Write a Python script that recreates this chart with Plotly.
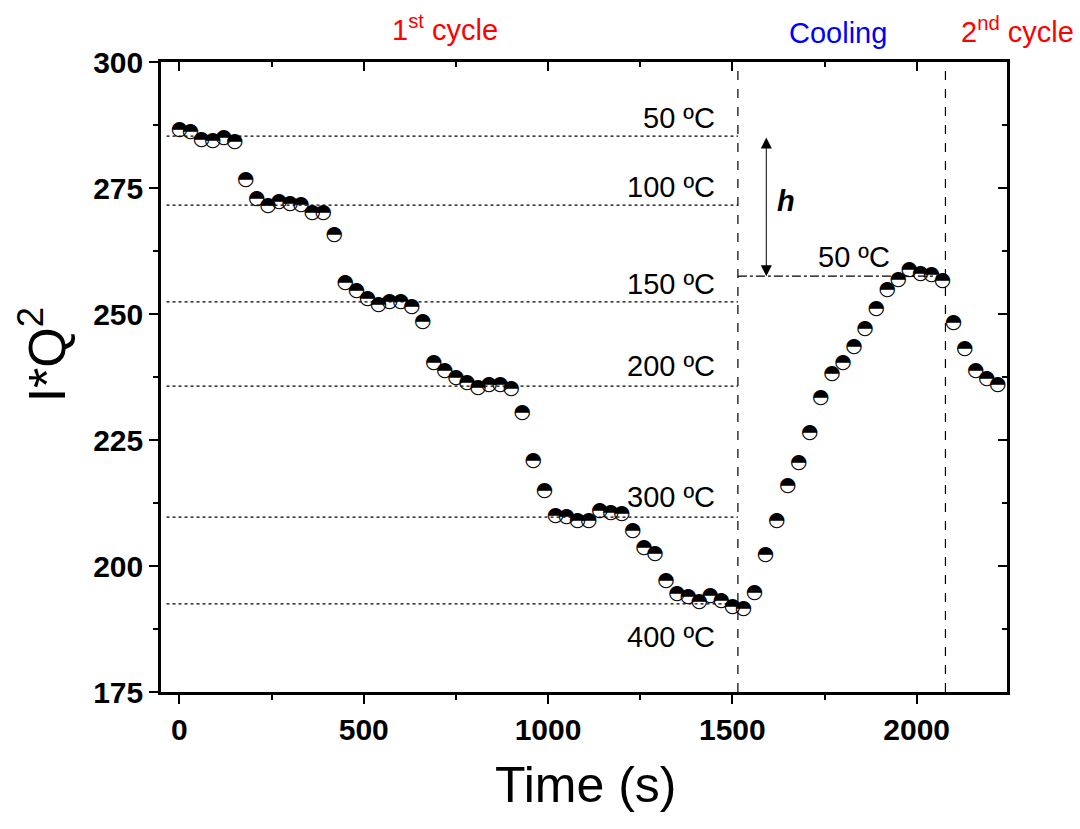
import plotly.graph_objects as go

# ---- data ----
time_s = [i * 30 for i in range(75)]
iq2 = [
    286.5, 286.2, 284.5, 284.3, 285.0, 284.1,
    276.6,
    272.8, 271.4, 272.2, 271.8, 271.6, 270.0, 270.0,
    265.7,
    256.2, 254.6, 253.0, 251.8, 252.4, 252.4, 251.4,
    248.4,
    240.3, 238.7, 237.3, 236.3, 235.3, 235.9, 235.9, 235.1,
    230.4, 220.8, 214.9,
    209.9, 209.7, 208.9, 208.9, 210.9, 210.5, 210.3,
    206.9, 203.6, 202.4, 197.0,
    194.4, 193.8, 192.8, 194.0, 193.0, 191.9, 191.5,
    194.6,
    202.2, 208.9, 215.9, 220.4, 226.4, 233.3, 238.1, 240.3, 243.5, 247.0, 251.0, 254.8,
    256.7, 258.7, 257.9, 257.7, 256.5,
    248.2, 243.0, 238.7, 237.1, 235.9,
]

level_temps = ["50 ºC", "100 ºC", "150 ºC", "200 ºC", "300 ºC", "400 ºC"]
level_values = [285.3, 271.6, 252.4, 235.7, 209.7, 192.5]
level_label_y = [288.9, 275.2, 256.0, 239.7, 213.7, 185.9]
level_label_x = 1458
level_x_start = -35
phase_bounds = [1515, 2078]
cooling_level = 257.5
arrow_x = 1592
h_pos = (1645, 272.4)
cool_label = ("50 ºC", 1831, 261.3)

x_range = [-50, 2245]
y_range = [175, 300]
x_ticks = [0, 500, 1000, 1500, 2000]
x_minor = [250, 750, 1250, 1750, 2250]
y_ticks = [175, 200, 225, 250, 275, 300]
y_minor = [187.5, 212.5, 237.5, 262.5, 287.5]

FONT = "Liberation Sans, Arial"

fig = go.Figure()

# Level lines (dotted)
for v in level_values:
    fig.add_shape(type="line", xref="x", yref="y", x0=level_x_start, x1=phase_bounds[0],
                  y0=v, y1=v, line=dict(color="black", width=1.2, dash="dot"))

# Phase boundaries (dashed)
for b in phase_bounds:
    fig.add_shape(type="line", xref="x", yref="paper", x0=b, x1=b, y0=0, y1=1,
                  line=dict(color="black", width=1.2, dash="dash"))

# Cooling 50 C level (dash-dot)
fig.add_shape(type="line", xref="x", yref="y", x0=phase_bounds[0], x1=phase_bounds[1],
              y0=cooling_level, y1=cooling_level,
              line=dict(color="black", width=1.2, dash="dashdot"))

# data markers: half-filled circles (glyph)
fig.add_trace(go.Scatter(
    x=time_s, y=iq2, mode="text", text=["◓"] * len(time_s),
    textposition="middle center",
    textfont=dict(family="DejaVu Sans", size=20, color="black"),
    hoverinfo="skip", showlegend=False))

# invisible trace for mirrored axes
fig.add_trace(go.Scatter(x=x_range, y=y_range, xaxis="x2", yaxis="y2", mode="markers",
                         marker=dict(opacity=0), hoverinfo="skip", showlegend=False))

# level labels
for t, ly in zip(level_temps, level_label_y):
    fig.add_annotation(x=level_label_x, y=ly, xref="x", yref="y", text=t, showarrow=False,
                       xanchor="right", yanchor="middle",
                       font=dict(family=FONT, size=29, color="black"))

fig.add_annotation(x=cool_label[1], y=cool_label[2], xref="x", yref="y", text=cool_label[0],
                   showarrow=False, xanchor="center", yanchor="middle",
                   font=dict(family=FONT, size=29, color="black"))

# double-headed arrow h
fig.add_annotation(x=arrow_x, y=cooling_level, ax=arrow_x, ay=level_values[0],
                   xref="x", yref="y", axref="x", ayref="y", text="", showarrow=True,
                   arrowhead=2, arrowsize=2.2, arrowwidth=1, arrowside="end+start",
                   arrowcolor="black", standoff=0, startstandoff=0)
fig.add_annotation(x=h_pos[0], y=h_pos[1], xref="x", yref="y", text="<b><i>h</i></b>",
                   showarrow=False, font=dict(family=FONT, size=29, color="black"))

# top labels
fig.add_annotation(x=0.336, y=1.054, xref="paper", yref="paper", text="1<sup>st</sup> cycle",
                   showarrow=False, xanchor="center", yanchor="middle",
                   font=dict(family=FONT, size=29, color="red"))
fig.add_annotation(x=0.800, y=1.046, xref="paper", yref="paper", text="Cooling",
                   showarrow=False, xanchor="center", yanchor="middle",
                   font=dict(family=FONT, size=29, color="blue"))
fig.add_annotation(x=1.012, y=1.05, xref="paper", yref="paper", text="2<sup>nd</sup> cycle",
                   showarrow=False, xanchor="center", yanchor="middle",
                   font=dict(family=FONT, size=29, color="red"))

# axis titles
fig.add_annotation(x=0.502, y=-0.148, xref="paper", yref="paper", text="Time (s)",
                   showarrow=False, xanchor="center", yanchor="middle",
                   font=dict(family=FONT, size=50, color="black"))
fig.add_annotation(x=-0.139, y=0.535, xref="paper", yref="paper", text="I*Q<sup>2</sup>",
                   showarrow=False, xanchor="center", yanchor="middle", textangle=-90,
                   font=dict(family=FONT, size=52, color="black"))

axis_font = dict(family=FONT, size=30, color="black", weight="bold")

fig.update_layout(
    width=1080, height=829,
    margin=dict(l=161, r=73, t=62, b=137),
    paper_bgcolor="white", plot_bgcolor="white",
    showlegend=False,
    xaxis=dict(range=x_range, tickmode="array", tickvals=x_ticks,
               ticks="outside", ticklen=9, tickwidth=2, tickcolor="black",
               minor=dict(tickvals=x_minor, ticks="outside", ticklen=5,
                          tickwidth=2, tickcolor="black"),
               showline=True, linecolor="black", linewidth=2.5, mirror=True,
               showgrid=False, zeroline=False, tickfont=axis_font),
    yaxis=dict(range=y_range, tickmode="array", tickvals=y_ticks,
               ticks="outside", ticklen=9, tickwidth=2, tickcolor="black",
               minor=dict(tickvals=y_minor, ticks="outside", ticklen=5,
                          tickwidth=2, tickcolor="black"),
               showline=True, linecolor="black", linewidth=2.5, mirror=True,
               showgrid=False, zeroline=False, tickfont=axis_font),
    xaxis2=dict(range=x_range, overlaying="x", side="top", tickmode="array",
                tickvals=x_ticks, ticks="inside", ticklen=9, tickwidth=2,
                tickcolor="black", showticklabels=False, showgrid=False, zeroline=False,
                minor=dict(tickvals=x_minor, ticks="inside", ticklen=5,
                           tickwidth=2, tickcolor="black")),
    yaxis2=dict(range=y_range, overlaying="y", side="right", tickmode="array",
                tickvals=y_ticks, ticks="inside", ticklen=9, tickwidth=2,
                tickcolor="black", showticklabels=False, showgrid=False, zeroline=False,
                minor=dict(tickvals=y_minor, ticks="inside", ticklen=5,
                           tickwidth=2, tickcolor="black")),
)

fig.write_html("out.html")
